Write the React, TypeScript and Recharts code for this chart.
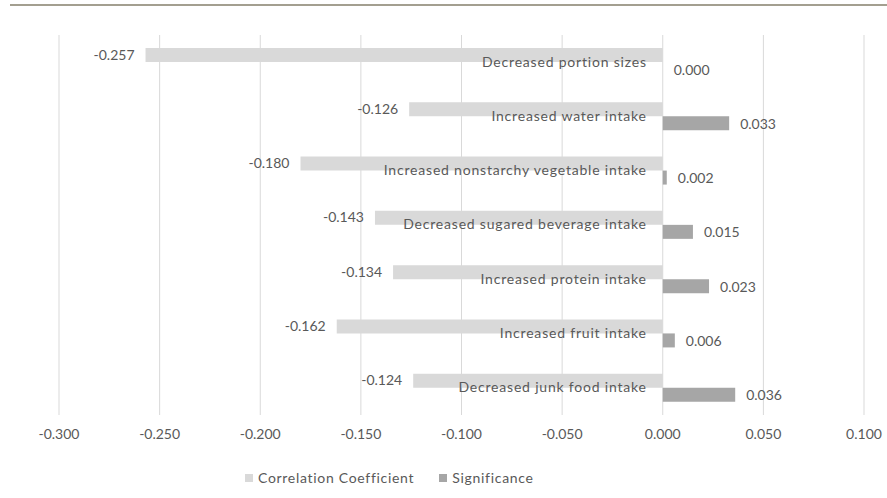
import { BarChart, Bar, XAxis, YAxis, CartesianGrid, Legend, LabelList } from "recharts";

const categories = [
  "Decreased portion sizes",
  "Increased water intake",
  "Increased nonstarchy vegetable intake",
  "Decreased sugared beverage intake",
  "Increased protein intake",
  "Increased fruit intake",
  "Decreased junk food intake",
];
const correlation = [-0.257, -0.126, -0.18, -0.143, -0.134, -0.162, -0.124];
const significance = [0.0, 0.033, 0.002, 0.015, 0.023, 0.006, 0.036];
const xTicks = [-0.3, -0.25, -0.2, -0.15, -0.1, -0.05, 0, 0.05, 0.1];

const CORR_COLOR = "#d9d9d9";
const SIG_COLOR = "#a6a6a6";
const TEXT_COLOR = "#595959";
const FONT = "Lato, 'Open Sans', sans-serif";

const data = categories.map((name, i) => ({
  name,
  corr: correlation[i],
  sig: significance[i],
}));

// LabelList content may get the rect either flat or inside viewBox
const box = (p: any) => (p.viewBox && p.viewBox.width !== undefined ? p.viewBox : p);

const CorrValue = (props: any) => {
  const { x, y, width, height } = box(props);
  const left = Math.min(x, x + width);
  return (
    <text x={left - 11} y={y + height / 2 + 1} textAnchor="end" dominantBaseline="middle"
      fill={TEXT_COLOR} fontSize={14} fontFamily={FONT}>
      {Number(props.value).toFixed(3)}
    </text>
  );
};

const CategoryName = (props: any) => {
  const { x, y, width, height } = box(props);
  const zero = Math.max(x, x + width);
  return (
    <text x={zero - 16} y={y + height + 1} textAnchor="end" dominantBaseline="middle"
      fill={TEXT_COLOR} fontSize={14} fontFamily={FONT} letterSpacing={0.8}>
      {props.value}
    </text>
  );
};

// significance labels hang off the correlation bar so the zero-width row still gets one;
// pixels per unit come from the correlation bar's own length
const SigValue = (props: any) => {
  const { x, y, width, height } = box(props);
  const row = data[props.index] ?? props.payload;
  const zero = Math.max(x, x + width);
  const pxPerUnit = Math.abs(width) / Math.abs(row.corr);
  const right = zero + row.sig * pxPerUnit;
  return (
    <text x={right + 11} y={y + height * 1.5 + 2} textAnchor="start" dominantBaseline="middle"
      fill={TEXT_COLOR} fontSize={14} fontFamily={FONT}>
      {Number(row.sig).toFixed(3)}
    </text>
  );
};

const legendItems = [
  { label: "Correlation Coefficient", color: CORR_COLOR },
  { label: "Significance", color: SIG_COLOR },
];

const LegendContent = () => (
  <div style={{ display: "flex", alignItems: "center", fontFamily: FONT, fontSize: 14, color: TEXT_COLOR, letterSpacing: 0.7 }}>
    {legendItems.map((it, i) => (
      <div key={it.label} style={{ display: "flex", alignItems: "center", marginRight: i === 0 ? 25 : 0 }}>
        <span style={{ display: "inline-block", width: 8, height: 8, background: it.color, marginRight: 5 }} />
        <span>{it.label}</span>
      </div>
    ))}
  </div>
);

export default function App() {
  return (
    <div style={{ position: "absolute", left: 0, top: 0, width: 887, height: 498, background: "#fff" }}>
      <div style={{ position: "absolute", left: 10, top: 4, width: 877, height: 2, background: "#a39f90" }} />
      <BarChart
        width={887}
        height={498}
        data={data}
        layout="vertical"
        margin={{ top: 35, right: 23, left: 59, bottom: 16 }}
        barSize={14}
        barGap={0}
      >
        <CartesianGrid horizontal={false} stroke="#d9d9d9" />
        <XAxis
          type="number"
          domain={[-0.3, 0.1]}
          ticks={xTicks}
          tickFormatter={(v: number) => v.toFixed(3)}
          axisLine={false}
          tickLine={false}
          tickMargin={8}
          height={50}
          tick={{ fill: TEXT_COLOR, fontSize: 14, fontFamily: FONT }}
        />
        <YAxis type="category" dataKey="name" hide />
        <Legend content={LegendContent} wrapperStyle={{ top: 469, left: 245, bottom: "auto", width: "auto" }} />
        <Bar dataKey="corr" name="Correlation Coefficient" fill={CORR_COLOR} isAnimationActive={false}>
          <LabelList dataKey="corr" content={CorrValue} />
          <LabelList dataKey="name" content={CategoryName} />
          <LabelList dataKey="sig" content={SigValue} />
        </Bar>
        <Bar dataKey="sig" name="Significance" fill={SIG_COLOR} isAnimationActive={false} />
      </BarChart>
    </div>
  );
}
